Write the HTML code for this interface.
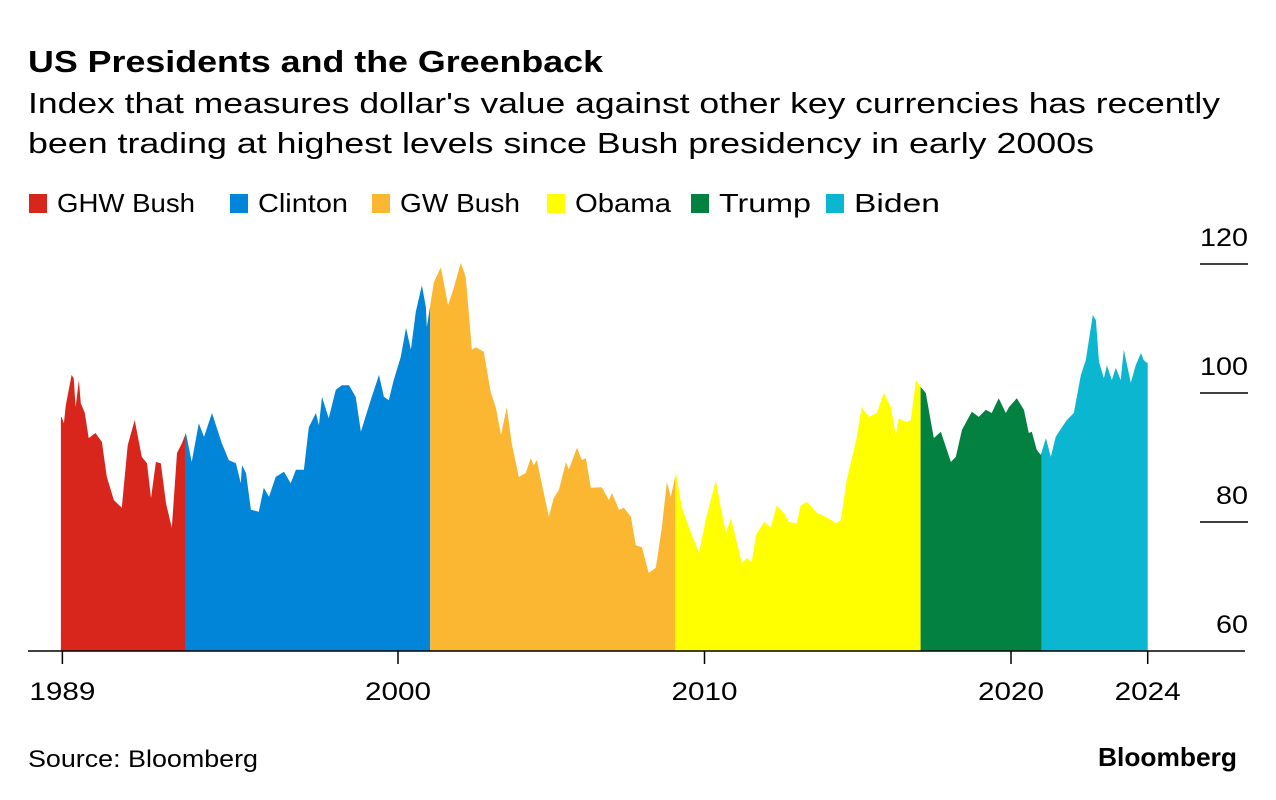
<!DOCTYPE html>
<html><head><meta charset="utf-8"><style>
html,body{margin:0;padding:0;background:#fff;width:1276px;height:800px;overflow:hidden}
svg{display:block;font-family:"Liberation Sans",Arial,sans-serif}
</style></head><body>
<svg id="chart" width="1276" height="800" viewBox="0 0 1276 800">
<text x="28" y="72" font-size="31" font-weight="bold" fill="#000" textLength="575" lengthAdjust="spacingAndGlyphs">US Presidents and the Greenback</text>
<text x="28" y="113" font-size="29" fill="#000" textLength="1192" lengthAdjust="spacingAndGlyphs">Index that measures dollar's value against other key currencies has recently</text>
<text x="28" y="153" font-size="29" fill="#000" textLength="1066" lengthAdjust="spacingAndGlyphs">been trading at highest levels since Bush presidency in early 2000s</text>
<g id="legend"></g>
<g id="yaxis"></g>
<g id="areas"></g>
<g id="xaxis"></g>
<text x="28" y="767" font-size="24" fill="#000" textLength="230" lengthAdjust="spacingAndGlyphs">Source: Bloomberg</text>
<text x="1098" y="766" font-size="26" font-weight="bold" fill="#000" textLength="139" lengthAdjust="spacingAndGlyphs">Bloomberg</text>
</svg>
<script>
const years = [1989.02,1989.10,1989.16,1989.35,1989.42,1989.48,1989.59,1989.65,1989.78,1989.91,1990.13,1990.34,1990.50,1990.73,1990.99,1991.18,1991.41,1991.64,1991.81,1991.94,1992.10,1992.26,1992.43,1992.62,1992.79,1992.95,
1993.08,1993.27,1993.50,1993.67,1993.93,1994.25,1994.48,1994.71,1994.87,1994.91,1995.04,1995.20,1995.46,1995.62,1995.79,1996.01,1996.28,1996.50,1996.67,1996.93,1997.09,1997.32,1997.42,1997.52,1997.74,1997.97,1998.17,1998.40,1998.62,1998.79,1999.11,1999.38,1999.54,1999.70,1999.86,2000.09,2000.26,2000.42,2000.58,2000.78,2000.91,
2000.94,2001.17,2001.40,2001.63,2001.82,2002.05,2002.21,2002.41,2002.54,2002.80,2003.03,2003.19,2003.36,2003.55,2003.71,2003.94,2004.17,2004.33,2004.43,2004.53,2004.69,2004.92,2005.08,2005.25,2005.48,2005.57,2005.84,2006.00,2006.13,2006.29,2006.65,2006.88,2006.98,2007.21,2007.37,2007.60,2007.76,2007.96,2008.18,2008.41,2008.61,2008.77,2008.90,
2009.07,2009.26,2009.49,2009.82,2010.04,2010.37,2010.53,2010.70,2010.86,2011.22,2011.38,2011.54,2011.68,2011.94,2012.16,2012.36,2012.59,2012.75,2013.01,2013.14,2013.34,2013.67,2013.96,2014.29,2014.45,2014.64,2014.97,2015.13,2015.36,2015.62,2015.85,2016.08,2016.24,2016.34,2016.57,2016.73,2016.90,
2017.06,2017.22,2017.48,2017.71,2018.04,2018.20,2018.40,2018.72,2018.95,2019.18,2019.37,2019.60,2019.83,2019.93,2020.19,2020.42,2020.58,2020.68,2020.84,
2020.97,2021.14,2021.30,2021.46,2021.66,2021.82,2022.05,2022.28,2022.44,2022.54,2022.67,2022.77,2022.87,2023.03,2023.13,2023.29,2023.42,2023.58,2023.68,2023.91,2024.07,2024.24,2024.33,2024.43];
const values = [96.3,95.3,98.1,102.8,102.3,97.8,102.0,98.4,96.9,93.0,93.8,92.4,87.0,83.4,82.2,91.9,95.8,90.1,89.1,83.7,89.3,89.1,82.9,79.1,90.7,92.2,
93.8,89.3,95.3,93.2,96.9,92.2,89.6,89.1,86.0,88.8,87.6,81.9,81.6,85.3,83.9,87.0,87.8,86.0,88.1,88.1,94.7,96.9,95.0,99.4,96.1,100.5,101.2,101.2,99.4,94.0,98.9,102.8,99.4,98.9,102.0,105.6,110.1,106.7,112.6,116.7,113.3,
110.2,117.2,119.5,113.6,116.3,120.2,118.0,106.7,107.1,106.4,100.0,97.8,93.5,97.8,92.2,87.0,87.6,89.9,88.8,89.6,86.0,80.8,83.7,85.0,89.3,88.1,91.5,89.6,89.9,85.3,85.4,83.4,84.5,81.9,82.2,80.8,76.4,76.1,72.1,72.9,79.2,86.2,83.9,
87.6,82.3,79.2,75.2,80.3,86.5,82.3,78.3,80.6,73.6,74.4,73.8,78.0,80.0,79.2,82.6,81.4,80.0,79.8,82.6,83.1,81.4,80.8,79.8,80.3,86.5,93.2,97.8,96.3,96.9,100.0,97.8,93.5,96.1,95.5,95.8,102.0,
100.9,100.0,93.0,94.0,89.3,90.1,94.3,97.1,96.3,97.4,96.9,99.2,96.9,97.8,99.2,97.4,93.8,94.0,91.2,
90.4,93.0,90.1,93.2,94.7,95.8,96.9,102.8,105.1,108.2,112.1,111.3,104.8,102.3,104.3,102.0,103.9,102.0,106.7,101.6,104.3,106.2,105.1,104.7];
const presidents = ["GHW Bush","Clinton","GW Bush","Obama","Trump","Biden"];
const termStarts = [1989.0,1993.05,2001.05,2009.05,2017.05,2021.0];
const termEnds = [1993.05,2001.05,2009.05,2017.05,2021.0,2024.46];
const colors = ["#d9261c","#0085d9","#fbb731","#ffff00","#028141","#0bb7d0"];
const yTicks = [60,80,100,120];
const xTickYears = [1989.05,2000,2010,2020,2024.46];
const xTickLabels = ["1989","2000","2010","2020","2024"];

const NS="http://www.w3.org/2000/svg";
const X = y => 398 + (y-2000)*30.65;
const Y = v => 651 - (v-60)*6.45;
function mk(tag, attrs, parent){const e=document.createElementNS(NS,tag);for(const k in attrs)e.setAttribute(k,attrs[k]);parent.appendChild(e);return e;}
function interp(t){
  if(t<=years[0])return values[0];
  for(let i=1;i<years.length;i++){if(years[i]>=t){const f=(t-years[i-1])/(years[i]-years[i-1]);return values[i-1]+f*(values[i]-values[i-1]);}}
  return values[values.length-1];
}
// legend layout
const legendX=[29,230,372,547,691,826];
const legendTextW=[138,90,120,96,92,86];
const lg=document.getElementById('legend');
presidents.forEach((p,i)=>{
  const g=mk('g',{},lg);
  
  
  mk('rect',{x:legendX[i],y:194,width:18,height:19,fill:colors[i]},g);
  const t=mk('text',{x:legendX[i]+28,y:212,'font-size':'26',fill:'#000',textLength:legendTextW[i],lengthAdjust:'spacingAndGlyphs'},g);
  t.textContent=p;
});
// y axis
const ya=document.getElementById('yaxis');
yTicks.forEach(v=>{
  if(v>60){const l=mk('line',{x1:1200,x2:1248,y1:Y(v),y2:Y(v),stroke:'#000','stroke-width':'1.5'},ya);
  
  }
  const t=mk('text',{x:1248,y:Y(v)-18,'font-size':'25','text-anchor':'end',fill:'#000',textLength:String(v).length*16,lengthAdjust:'spacingAndGlyphs'},ya);
  
  
  t.textContent=v;
});
// areas
const ar=document.getElementById('areas');
presidents.forEach((p,i)=>{
  const s=termStarts[i], e=termEnds[i];
  const pts=[[s,interp(s)]];
  years.forEach((y,j)=>{if(y>s&&y<e)pts.push([y,values[j]]);});
  pts.push([e,interp(e)]);
  let d='M'+X(s).toFixed(1)+','+Y(60);
  pts.forEach(q=>{d+=' L'+X(q[0]).toFixed(1)+','+Y(q[1]).toFixed(1);});
  d+=' L'+X(e).toFixed(1)+','+Y(60)+' Z';
  const path=mk('path',{d:d,fill:colors[i]},ar);
  
  
});
// x axis
const xa=document.getElementById('xaxis');
const base=mk('line',{x1:28,x2:1245,y1:651,y2:651,stroke:'#000','stroke-width':'1.5'},xa);


xTickYears.forEach((y,i)=>{
  const l=mk('line',{x1:X(y),x2:X(y),y1:651,y2:664,stroke:'#000','stroke-width':'1.5'},xa);
  
  
  const t=mk('text',{x:X(y),y:700,'font-size':'25','text-anchor':'middle',fill:'#000',textLength:66,lengthAdjust:'spacingAndGlyphs'},xa);
  
  
  t.textContent=xTickLabels[i];
});
</script>
</body></html>
